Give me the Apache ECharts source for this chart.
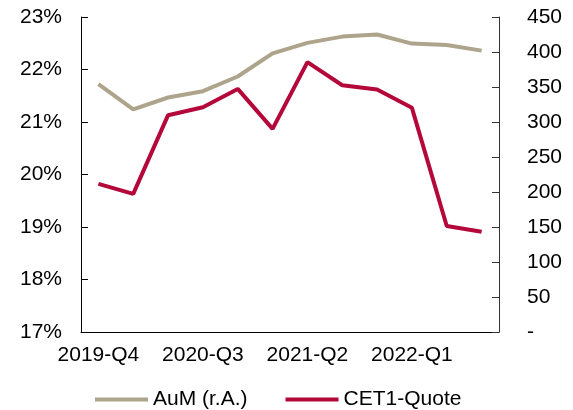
<!DOCTYPE html>
<html>
<head>
<meta charset="utf-8">
<script src="https://cdn.jsdelivr.net/npm/echarts@6/dist/echarts.min.js"></script>
<style>
  html, body { margin: 0; padding: 0; background: #fff; }
  #chart { width: 573px; height: 410px; }
</style>
</head>
<body>
<div id="chart"></div>
<script>
// Quarterly figures
const quarters = ['2019-Q4', '2020-Q1', '2020-Q2', '2020-Q3', '2020-Q4', '2021-Q1',
                  '2021-Q2', '2021-Q3', '2021-Q4', '2022-Q1', '2022-Q2', '2022-Q3'];
// Assets under management (right axis)
const aum = [354, 318, 335, 344, 365, 398, 413, 422, 425, 412, 410, 402];
// CET1 ratio in percent (left axis)
const cet1 = [19.82, 19.63, 21.13, 21.28, 21.63, 20.87, 22.14, 21.70, 21.62, 21.27, 19.02, 18.91];

const FONT = 'Liberation Sans';
const FS = 21;
const TAN = '#aea48b';
const RED = '#b4073a';

const chart = echarts.init(document.getElementById('chart'), null, { renderer: 'canvas' });

chart.setOption({
  animation: false,
  textStyle: { fontFamily: FONT },
  grid: { left: 81, right: 74, top: 17, bottom: 78, containLabel: false },
  legend: {
    left: 90,
    top: 384,
    itemWidth: 53,
    itemHeight: 4,
    itemGap: 38,
    icon: 'rect',
    textStyle: { fontFamily: FONT, fontSize: FS, color: '#000' },
    data: ['AuM (r.A.)', 'CET1-Quote']
  },
  xAxis: {
    type: 'category',
    data: quarters,
    boundaryGap: true,
    axisLine: { lineStyle: { color: '#000', width: 1 } },
    axisTick: { inside: true, length: 7, interval: 2, lineStyle: { color: '#000' } },
    axisLabel: { interval: 2, fontFamily: FONT, fontSize: FS, color: '#000', margin: 13 },
    splitLine: { show: false }
  },
  yAxis: [
    {
      type: 'value',
      min: 17, max: 23, interval: 1,
      position: 'left',
      axisLine: { show: true, lineStyle: { color: '#000' } },
      axisTick: { show: true, inside: true, length: 7, lineStyle: { color: '#000' } },
      axisLabel: { formatter: v => v + '%', fontFamily: FONT, fontSize: FS, color: '#000', margin: 19 },
      splitLine: { show: false }
    },
    {
      type: 'value',
      min: 0, max: 450, interval: 50,
      position: 'right',
      axisLine: { show: true, lineStyle: { color: '#333' } },
      axisTick: { show: true, inside: true, length: 7, lineStyle: { color: '#333' } },
      axisLabel: { formatter: v => v === 0 ? '-' : String(v), fontFamily: FONT, fontSize: FS, color: '#000', margin: 28 },
      splitLine: { show: false }
    }
  ],
  series: [
    {
      name: 'AuM (r.A.)',
      type: 'line',
      yAxisIndex: 1,
      data: aum,
      symbol: 'none',
      lineStyle: { color: TAN, width: 4 },
      itemStyle: { color: TAN }
    },
    {
      name: 'CET1-Quote',
      type: 'line',
      yAxisIndex: 0,
      data: cet1,
      symbol: 'none',
      lineStyle: { color: RED, width: 4 },
      itemStyle: { color: RED }
    }
  ]
});
</script>
</body>
</html>
